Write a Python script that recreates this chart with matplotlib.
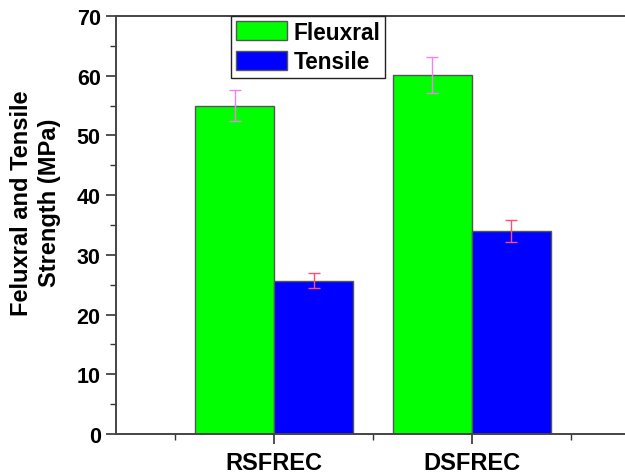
import numpy as np
import matplotlib
matplotlib.use("Agg")
import matplotlib.pyplot as plt
from matplotlib.ticker import MultipleLocator, FixedLocator

plt.rcParams['font.family'] = ['Liberation Sans', 'DejaVu Sans']
plt.rcParams['font.weight'] = 'bold'

# data
categories = ['RSFREC', 'DSFREC']
flexural = [55.0, 60.1]
flexural_err = [2.6, 3.0]
tensile = [25.7, 34.0]
tensile_err = [1.2, 1.8]

fig = plt.figure(figsize=(6.25, 4.77), dpi=100)
W, H = 625, 477
left, right, top, bottom = 116, 630, 17, 435
ax = fig.add_axes([left / W, 1 - bottom / H, (right - left) / W, (bottom - top) / H])

x = np.arange(1, len(categories) + 1)
width = 0.4
ax.bar(x - width / 2, flexural, width, color='#00ff00', edgecolor='#555555',
       linewidth=1.0, label='Fleuxral', zorder=2)
ax.bar(x + width / 2, tensile, width, color='#0000ff', edgecolor='#555555',
       linewidth=1.0, label='Tensile', zorder=2)
ax.errorbar(x - width / 2, flexural, yerr=flexural_err, fmt='none',
            ecolor='#f080f0', elinewidth=1.0, capsize=4, capthick=1.0, zorder=3)
ax.errorbar(x + width / 2, tensile, yerr=tensile_err, fmt='none',
            ecolor='#ff5070', elinewidth=1.0, capsize=4, capthick=1.0, zorder=3)

ax.set_xlim(0.2, 2.8)
ax.set_ylim(0, 70)
ax.set_xticks(x)
ax.set_xticklabels(categories, fontweight='bold')
ax.xaxis.set_minor_locator(FixedLocator([0.5, 1.5, 2.5]))
ax.yaxis.set_major_locator(MultipleLocator(10))
ax.yaxis.set_minor_locator(MultipleLocator(5))

ax.tick_params(axis='both', which='major', direction='out', length=7,
               width=1.2, color='#333333')
ax.tick_params(axis='both', which='minor', direction='out', length=4,
               width=1.0, color='#333333')
ax.tick_params(axis='y', which='major', pad=4, labelsize=15.5)
ax.tick_params(axis='x', which='major', pad=5, labelsize=17)

for side in ['left', 'bottom', 'top']:
    ax.spines[side].set_color('#444444')
    ax.spines[side].set_linewidth(1.4)
ax.spines['right'].set_visible(False)

ax.set_ylabel('Feluxral and Tensile\nStrength (MPa)', fontsize=17,
              fontweight='bold', linespacing=1.3)
ax.yaxis.set_label_coords(-0.107, 0.555)

leg = ax.legend(loc='upper left', bbox_to_anchor=(0.224, 1.0), borderaxespad=0,
                prop={'weight': 'bold', 'size': 16.3},
                fancybox=False, framealpha=1, edgecolor='#222222',
                handlelength=2.25, handleheight=0.9, handletextpad=0.3,
                labelspacing=0.3, borderpad=0.2)
leg.get_frame().set_linewidth(1.0)

fig.savefig('out.png', dpi=100)
